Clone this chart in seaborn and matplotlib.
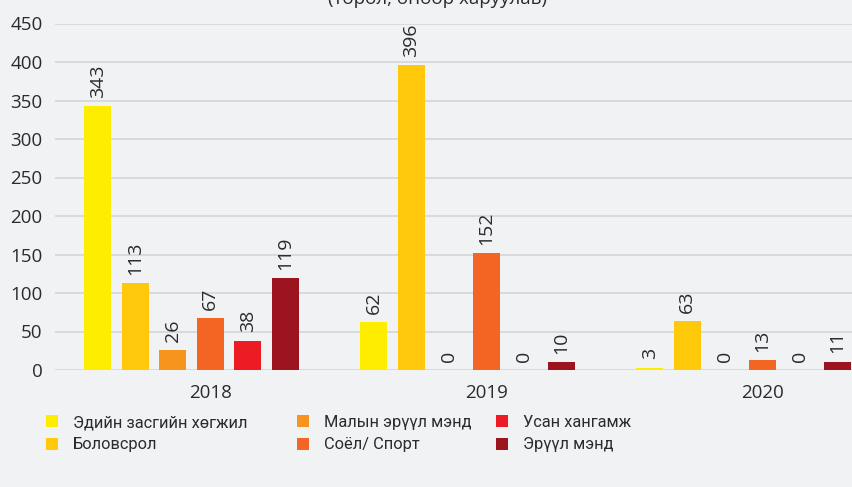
import numpy as np
import pandas as pd
import seaborn as sns
import matplotlib.pyplot as plt
from matplotlib import font_manager
from matplotlib.patches import Patch

years = ['2018', '2019', '2020']
series = ['Эдийн засгийн хөгжил', 'Боловсрол', 'Малын эрүүл мэнд',
          'Соёл/ Спорт', 'Усан хангамж', 'Эрүүл мэнд']
values = [
    [343, 62, 3],
    [113, 396, 63],
    [26, 0, 0],
    [67, 152, 13],
    [38, 0, 0],
    [119, 10, 11],
]
colors = ['#FFED00', '#FFC80B', '#F7941D', '#F26522', '#ED1C24', '#9D1421']
title = '(төрөл, өнөөр харуулав)'

rows = []
for name, vals in zip(series, values):
    for y, v in zip(years, vals):
        rows.append({'year': y, 'series': name, 'value': v})
df = pd.DataFrame(rows)

bg = '#F1F2F4'
txt = '#2B2B2B'
sns.set_style('whitegrid', {'axes.facecolor': bg, 'grid.color': '#D2D3D5'})
plt.rcParams['font.family'] = ['Open Sans', 'DejaVu Sans']

names = {f.name for f in font_manager.fontManager.ttflist}
narrow = 'Liberation Sans Narrow' if 'Liberation Sans Narrow' in names else 'Roboto'
leg_size = 13 if narrow == 'Liberation Sans Narrow' else 11.8

fig = plt.figure(figsize=(8.52, 4.87), dpi=100, facecolor=bg)
ax = fig.add_axes([55 / 852, 117 / 487, 797 / 852, 346.5 / 487])

sns.barplot(data=df, x='year', y='value', hue='series', hue_order=series,
            palette=dict(zip(series, colors)), width=0.815, gap=0.28,
            saturation=1, linewidth=0, edgecolor='none', legend=False, ax=ax)

for c in ax.containers:
    ax.bar_label(c, fmt='%d', rotation=90, padding=6, fontsize=14, color=txt)

ax.set_ylim(0, 450)
ax.set_yticks(np.arange(0, 451, 50))
ax.set_xlim(-0.495, 2.393)
ax.set_xticks(np.arange(len(years)) + 0.07)
ax.set_xticklabels(years)
ax.grid(axis='x', visible=False)
ax.grid(axis='y', linewidth=1.1)
ax.set_axisbelow(True)
for s in ax.spines.values():
    s.set_visible(False)
ax.tick_params(axis='y', length=0, pad=9, labelsize=13.5, labelcolor=txt)
ax.tick_params(axis='x', length=0, pad=10, labelsize=13.5, labelcolor=txt)
ax.set_xlabel('')
ax.set_ylabel('')

fig.text(437 / 852, 1 - 4.5 / 487, title, ha='center', va='baseline',
         fontsize=13.5, color=txt)

# legend in three columns, like the original
col_x = [46 / 852, 297 / 852, 496 / 852]
for i, x in enumerate(col_x):
    handles = [Patch(facecolor=colors[j], edgecolor='none')
               for j in (2 * i, 2 * i + 1)]
    labels = [series[j] for j in (2 * i, 2 * i + 1)]
    leg = fig.legend(handles, labels, loc='upper left',
                     bbox_to_anchor=(x, 1 - 415 / 487), frameon=False,
                     handlelength=0.75, handleheight=0.75, handletextpad=0.9,
                     labelspacing=0.45, borderaxespad=0, borderpad=0,
                     prop={'family': narrow, 'size': leg_size})
    for t in leg.get_texts():
        t.set_color(txt)

fig.savefig('out.png', dpi=100, facecolor=bg)
